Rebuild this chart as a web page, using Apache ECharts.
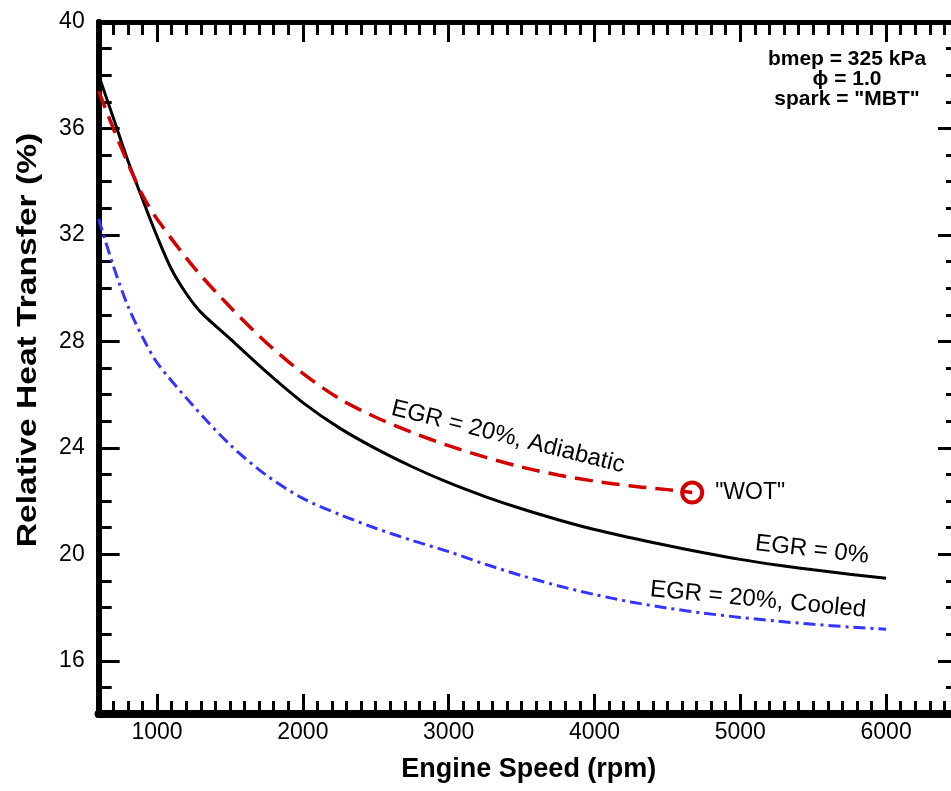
<!DOCTYPE html>
<html>
<head>
<meta charset="utf-8">
<script src="https://cdn.jsdelivr.net/npm/echarts@6/dist/echarts.min.js"></script>
<style>
html,body{margin:0;padding:0;background:#fff;}
#chart{width:951px;height:791px;}
</style>
</head>
<body>
<div id="chart"></div>
<script>
// ---- data ----
const egr0Rpm   = [600, 700, 800, 900, 1000, 1100, 1200, 1300, 1500, 1750, 2000, 2250, 2500, 2750, 3000, 3250, 3500, 3750, 4000, 4250, 4500, 4750, 5000, 5250, 5500, 5750, 6000];
const egr0Val   = [38.0, 36.4, 34.8, 33.35, 31.95, 30.7, 29.8, 29.1, 28.1, 26.85, 25.7, 24.75, 23.97, 23.29, 22.69, 22.17, 21.71, 21.3, 20.93, 20.62, 20.33, 20.06, 19.81, 19.6, 19.42, 19.25, 19.1];

const adiaRpm   = [600, 700, 800, 900, 1000, 1250, 1500, 1750, 2000, 2250, 2500, 2750, 3000, 3250, 3500, 3750, 4000, 4250, 4500, 4670];
const adiaVal   = [37.4, 36.0, 34.7, 33.5, 32.6, 30.8, 29.3, 27.95, 26.8, 25.85, 25.15, 24.58, 24.08, 23.65, 23.28, 22.98, 22.75, 22.57, 22.43, 22.32];

const coolRpm   = [600, 700, 800, 900, 1000, 1250, 1500, 1750, 2000, 2250, 2500, 2750, 3000, 3250, 3500, 3750, 4000, 4250, 4500, 4750, 5000, 5250, 5500, 5750, 6000];
const coolVal   = [32.6, 30.84, 29.33, 28.17, 27.2, 25.57, 24.12, 22.97, 22.1, 21.5, 20.98, 20.52, 20.1, 19.63, 19.2, 18.82, 18.49, 18.21, 17.98, 17.79, 17.63, 17.49, 17.37, 17.27, 17.18];

const wotRpm    = [4670];
const wotVal    = [22.32];
const wotText   = '"WOT"';

const xMajorTicks = [1000, 2000, 3000, 4000, 5000, 6000];
const yMajorTicks = [16, 20, 24, 28, 32, 36, 40];

const annTexts  = ['EGR = 20%, Adiabatic', 'EGR = 0%', 'EGR = 20%, Cooled'];
const annRpm    = [3407, 5492, 5122];
const annVal    = [24.41, 20.17, 18.29];
const annAngle  = [14, 6.5, 5.5];

const infoLines = ['bmep = 325 kPa', '\u03D5 = 1.0', 'spark = "MBT"'];

const xTitle = 'Engine Speed (rpm)';
const yTitle = 'Relative Heat Transfer (%)';

// ---- chart ----
const FONT = "'Liberation Sans', Arial, Helvetica, sans-serif";
const zip = (a, b) => a.map((v, i) => [v, b[i]]);
const plain = v => String(v);

const chart = echarts.init(document.getElementById('chart'), null, {renderer: 'canvas'});

function xAxisDef(pos, major, withLabel) {
  return {
    type: 'value', position: pos, min: 600, max: 6500,
    interval: major ? undefined : 100,
    axisLine: {show: true, onZero: false, lineStyle: {color: '#000', width: pos === 'bottom' ? 8 : 5}},
    axisTick: major
      ? {show: true, inside: true, length: 20, customValues: xMajorTicks, lineStyle: {color: '#000', width: 3}}
      : {show: true, inside: true, length: 13, lineStyle: {color: '#000', width: 3}},
    axisLabel: withLabel
      ? {show: true, customValues: xMajorTicks, formatter: plain, margin: 7, fontSize: 23, color: '#000', fontFamily: FONT}
      : {show: false},
    splitLine: {show: false},
    name: withLabel ? xTitle : '',
    nameLocation: 'middle', nameGap: 42,
    nameTextStyle: {fontSize: 27, fontWeight: 'bold', color: '#000', fontFamily: FONT}
  };
}
function yAxisDef(pos, major, withLabel) {
  return {
    type: 'value', position: pos, min: 14, max: 40,
    interval: major ? undefined : 1,
    axisLine: {show: true, onZero: false, lineStyle: {color: '#000', width: 6}},
    axisTick: major
      ? {show: true, inside: true, length: 21, customValues: yMajorTicks, lineStyle: {color: '#000', width: 3}}
      : {show: true, inside: true, length: 13, lineStyle: {color: '#000', width: 3}},
    axisLabel: withLabel
      ? {show: true, customValues: yMajorTicks, formatter: plain, margin: 14, fontSize: 23, color: '#000', fontFamily: FONT}
      : {show: false},
    splitLine: {show: false}
  };
}

const option = {
  animation: false,
  backgroundColor: '#fff',
  grid: {left: 98.7, width: 860.3, top: 22, bottom: 77, containLabel: false, outerBoundsMode: 'none'},
  xAxis: [
    xAxisDef('bottom', true, true),
    xAxisDef('bottom', false, false),
    xAxisDef('top', true, false),
    xAxisDef('top', false, false)
  ],
  yAxis: [
    yAxisDef('left', true, true),
    yAxisDef('left', false, false),
    yAxisDef('right', true, false),
    yAxisDef('right', false, false)
  ],
  series: [
    {
      type: 'line', name: 'EGR = 0%', data: zip(egr0Rpm, egr0Val),
      smooth: 0.3, showSymbol: false, symbol: 'none',
      lineStyle: {color: '#000', width: 3}, z: 3
    },
    {
      type: 'line', name: 'EGR = 20%, Adiabatic', data: zip(adiaRpm, adiaVal),
      smooth: 0.3, showSymbol: false, symbol: 'none',
      lineStyle: {color: '#d40000', width: 3.5, type: [18, 9]}, z: 3
    },
    {
      type: 'line', name: 'EGR = 20%, Cooled', data: zip(coolRpm, coolVal),
      smooth: 0.3, showSymbol: false, symbol: 'none',
      lineStyle: {color: '#3434ff', width: 3, type: [12, 5, 3, 5]}, z: 3
    },
    {
      type: 'scatter', name: 'WOT', data: zip(wotRpm, wotVal),
      symbol: 'circle', symbolSize: 20,
      itemStyle: {color: 'rgba(0,0,0,0)', borderColor: '#d40000', borderWidth: 4, opacity: 1},
      label: {show: true, position: 'right', distance: 11, formatter: wotText,
              fontSize: 23, color: '#000', fontFamily: FONT},
      emphasis: {disabled: true},
      z: 4
    }
  ],
  graphic: []
};
chart.setOption(option);

const g = annTexts.map((t, i) => {
  const p = chart.convertToPixel({xAxisIndex: 0, yAxisIndex: 0}, [annRpm[i], annVal[i]]);
  return {
    type: 'text', x: p[0], y: p[1], rotation: -annAngle[i] * Math.PI / 180,
    style: {text: t, fontSize: 24, fill: '#000', fontFamily: FONT, align: 'center', verticalAlign: 'middle'},
    z: 10
  };
});
g.push({
  type: 'text', x: 847, y: 49,
  style: {text: infoLines.join('\n'), fontSize: 21, fontWeight: 'bold', lineHeight: 20,
          fill: '#000', fontFamily: FONT, align: 'center', verticalAlign: 'top'},
  z: 10
});
// y-axis title
g.push({
  type: 'text', x: 28, y: 340, rotation: Math.PI / 2, scaleX: 1.2,
  style: {text: yTitle, fontSize: 28, fontWeight: 'bold', fill: '#000', fontFamily: FONT,
          align: 'center', verticalAlign: 'middle'},
  z: 10
});
chart.setOption({graphic: g});
</script>
</body>
</html>
